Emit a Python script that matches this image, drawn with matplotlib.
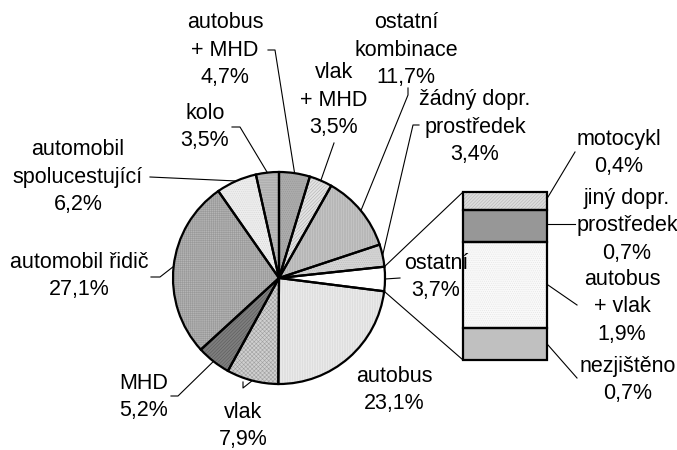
import matplotlib
matplotlib.use('Agg')
import matplotlib.pyplot as plt
import numpy as np

# pie slices, clockwise from 12 o'clock
pie_labels = ['autobus\n+ MHD', 'vlak\n+ MHD', 'ostatní\nkombinace', 'žádný dopr.\nprostředek',
              'ostatní', 'autobus', 'vlak', 'MHD', 'automobil řidič',
              'automobil\nspolucestující', 'kolo']
pie_values = [4.7, 3.5, 11.7, 3.4, 3.7, 23.1, 7.9, 5.2, 27.1, 6.2, 3.5]
pie_colors = ['#ababab', '#e4e4e4', '#c6c6c6', '#d4d4d4', '#ffffff', '#ececec',
              '#d0d0d0', '#7e7e7e', '#b4b4b4', '#ededed', '#bebebe']
pie_hatch = ['.'*8, '/'*10, '|'*10, '.'*8, '', '|'*10, 'x'*8, '/'*10, '+'*8, '.'*8, '-'*10]
pie_hcol = ['#979797', '#b0b0b0', '#a8a8a8', '#bcbcbc', '#ffffff', '#d4d4d4',
            '#a0a0a0', '#5a5a5a', '#999999', '#d6d6d6', '#a4a4a4']

# bar (breakdown of "ostatní"), bottom to top
bar_labels = ['nezjištěno', 'autobus\n+ vlak', 'jiný dopr.\nprostředek', 'motocykl']
bar_values = [0.7, 1.9, 0.7, 0.4]
bar_colors = ['#c0c0c0', '#f9f9f9', '#979797', '#dcdcdc']
bar_hatch = ['', '.'*8, '', '/'*10]
bar_hcol = ['#c0c0c0', '#e4e4e4', '#979797', '#b4b4b4']

def fmt(v):
  return ('%.1f%%' % v).replace('.', ',')

plt.rcParams['font.family'] = ['Liberation Sans', 'DejaVu Sans']
plt.rcParams['hatch.linewidth'] = 0.4

W, H = 677, 450
fig = plt.figure(figsize=(W/100, H/100), dpi=100)
ax = fig.add_axes([0, 0, 1, 1])

cx, cy, r = 279, H-278, 106
# texture layer then outline layer
wed, _ = ax.pie(pie_values, colors=pie_colors, startangle=90, counterclock=False,
                center=(cx, cy), radius=r, frame=True,
                wedgeprops=dict(linewidth=0))
for w, h, hc in zip(wed, pie_hatch, pie_hcol):
  w.set_hatch(h)
  w.set_edgecolor(hc)
ax.pie(pie_values, colors=['none']*len(pie_values), startangle=90, counterclock=False,
       center=(cx, cy), radius=r, frame=True,
       wedgeprops=dict(edgecolor='black', linewidth=1.6))
ax.set_xlim(0, W)
ax.set_ylim(0, H)
ax.set_aspect('equal')
ax.axis('off')

# bar
bx, bw = 505, 84
btop, bbot = H-192, H-360
scale = (btop-bbot)/sum(bar_values)
bottoms = bbot + scale*np.concatenate([[0], np.cumsum(bar_values)[:-1]])
heights = scale*np.array(bar_values)
bars = ax.bar([bx]*4, heights, bw, bottom=bottoms, color=bar_colors, linewidth=0)
for b, h, hc in zip(bars, bar_hatch, bar_hcol):
  b.set_hatch(h)
  b.set_edgecolor(hc)
ax.bar([bx]*4, heights, bw, bottom=bottoms, color='none', edgecolor='black', linewidth=1.6)

# connector lines from "ostatní" slice to bar
cum = np.cumsum([0]+pie_values)
i = 4
a0 = np.radians(90 - cum[i]*3.6)
a1 = np.radians(90 - cum[i+1]*3.6)
ax.plot([cx+r*np.cos(a0), bx-bw/2], [cy+r*np.sin(a0), btop], color='black', lw=0.8)
ax.plot([cx+r*np.cos(a1), bx-bw/2], [cy+r*np.sin(a1), bbot], color='black', lw=0.8)

fs = 15.5
ls = 1.38
# label centres (x, y in pixels from top) and leader end points
pie_pos = [(225, 50), (334, 100), (406, 50), (475, 127), (436, 277), (394, 390),
           (243, 426), (144, 397), (79, 276), (78, 177), (205, 127)]
pie_lead = [[(275, 50), (268, 50)], [(334, 143)], [(408, 95), (408, 88)], [(413, 125), (419, 125)],
            [(400, 278)], None, [(243, 388), (243, 382)], [(178, 396), (171, 396)],
            [(160, 277), (151, 277)], [(150, 177)], [(240, 127), (232, 127)]]
for k, (lab, v) in enumerate(zip(pie_labels, pie_values)):
  x, y = pie_pos[k]
  ax.text(x, H-y, lab+'\n'+fmt(v), ha='center', va='center', fontsize=fs, linespacing=ls)
  if pie_lead[k]:
    am = np.radians(90 - (cum[k]+cum[k+1])/2*3.6)
    px = [cx+r*np.cos(am)] + [p[0] for p in pie_lead[k]]
    py = [cy+r*np.sin(am)] + [H-p[1] for p in pie_lead[k]]
    ax.plot(px, py, color='black', lw=0.8)

bar_pos = [(628, 380), (622, 307), (627, 226), (619, 153)]
bar_lead = [[(577, 378)], [(577, 305)], [(575, 224)], [(575, 152)]]
bar_start = [(548, 345), (548, 285), (548, 224), (548, 197)]
for k, (lab, v) in enumerate(zip(bar_labels, bar_values)):
  x, y = bar_pos[k]
  ax.text(x, H-y, lab+'\n'+fmt(v), ha='center', va='center', fontsize=fs, linespacing=ls)
  pts = [bar_start[k]] + bar_lead[k]
  ax.plot([p[0] for p in pts], [H-p[1] for p in pts], color='black', lw=0.8)

fig.savefig('out.png', dpi=100)
